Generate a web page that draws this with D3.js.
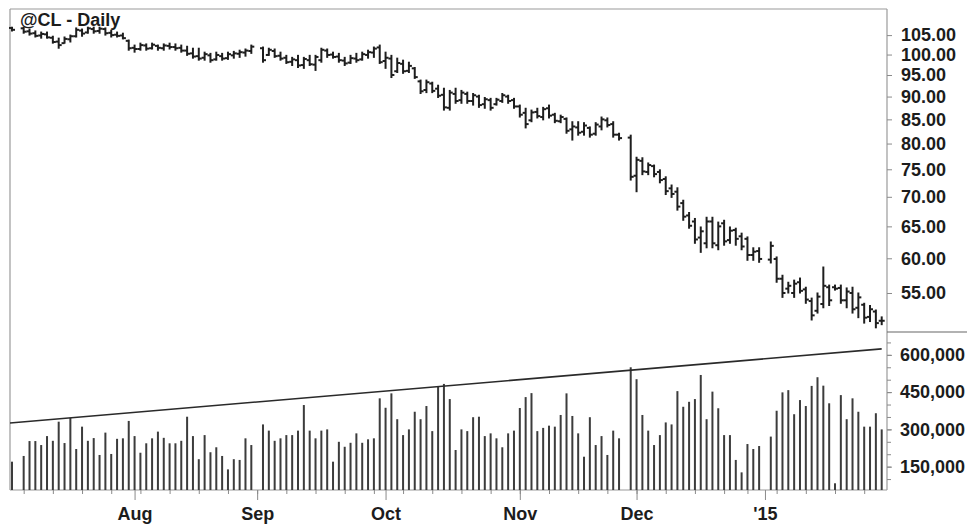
<!DOCTYPE html>
<html>
<head>
<meta charset="utf-8">
<script src="https://cdn.jsdelivr.net/npm/d3@7"></script>
<style>
  html, body { margin: 0; padding: 0; background: #fff; }
  svg text { font-family: "Liberation Sans", Arial, Helvetica, sans-serif; font-weight: bold; fill: #1c1c1c; }
</style>
</head>
<body>
<div id="container"></div>
<script>
const title = '@CL - Daily';
const startDay = '2014-07-03';
const endDay = '2015-01-29';
const closedDays = ['2014-12-25'];

// one slot per session, null = holiday session with no bar
const open = [106.9, null, 106.8, 106.0, 105.5, 104.9, 105.2, 104.3, 103.3, 102.9, 103.9, 104.7, 106.2, 105.7, 106.6, 106.1, 106.6, 105.6, 105.1, 104.9,
  103.5, 101.7, 101.4, 102.3, 101.6, 102.2, 101.6, 102.2, 101.9, 101.7, 101.0, 100.3, 99.6, 99.2, 99.8, 98.8, 99.6, 99.1, 99.8, 100.2,
  100.5, 100.9, null, 101.6, 99.9, 100.9, 99.7, 99.2, 98.2, 98.6, 97.4, 98.6, 97.5, 98.6, 101.0, 100.0, 99.5, 98.5, 98.0, 99.0,
  98.8, 99.9, 100.5, 101.8, 98.4, 99.0, 95.9, 97.7, 96.0, 96.6, 93.5, 91.5, 93.0, 91.8, 90.4, 87.5, 90.6, 89.2, 90.6, 89.0,
  90.0, 88.3, 89.2, 88.3, 89.0, 90.0, 89.2, 87.8, 86.4, 84.8, 86.6, 85.5, 87.4, 86.0, 84.6, 85.1, 82.9, 83.3, 82.4, 83.2,
  82.0, 83.5, 84.8, 84.0, 81.8, null, 81.2, 73.8, 76.6, 74.5, 75.6, 74.5, 73.2, 71.5, 70.9, 68.9, 66.8, 65.8, 63.2, 62.3,
  65.8, 62.0, 65.5, 62.8, 64.4, 63.4, 63.0, 60.5, 61.1, null, 59.8, 59.9, 57.0, 55.6, 55.0, 56.5, 55.5, 53.9, 52.6, 53.5,
  55.8, 55.8, 55.7, 54.0, 55.0, 53.0, 53.4, 51.8, 52.5, 51.3];
const high = [107.1, null, 107.1, 106.6, 106.1, 105.8, 105.8, 104.7, 104.2, 104.5, 105.0, 106.9, 106.6, 107.1, 107.1, 107.1, 106.9, 106.3, 105.8, 105.5,
  103.7, 102.4, 102.9, 102.7, 102.9, 102.4, 102.7, 102.9, 102.7, 102.4, 102.1, 101.6, 101.6, 100.6, 100.3, 100.6, 100.3, 100.6, 100.8, 101.1,
  101.4, 102.4, null, 101.9, 101.6, 101.4, 100.6, 99.8, 99.3, 99.8, 99.3, 99.8, 99.8, 101.6, 101.4, 100.6, 100.3, 99.3, 99.8, 100.3,
  100.6, 101.1, 101.9, 102.4, 100.6, 99.8, 99.1, 98.6, 98.1, 96.8, 93.8, 93.8, 93.3, 92.6, 91.9, 91.4, 91.9, 91.4, 91.0, 90.7,
  90.3, 89.8, 89.6, 89.6, 90.7, 90.3, 89.6, 88.1, 87.4, 87.0, 87.4, 87.6, 88.1, 86.3, 85.9, 85.3, 84.5, 84.5, 84.3, 83.4,
  84.3, 85.5, 85.3, 84.5, 82.1, null, 81.7, 77.3, 77.2, 76.2, 75.8, 74.9, 73.6, 72.1, 71.6, 69.4, 67.3, 66.3, 64.9, 66.5,
  66.5, 65.7, 66.0, 64.9, 64.7, 63.9, 63.3, 61.6, 61.6, null, 62.5, 60.2, 57.5, 56.5, 56.8, 57.1, 55.8, 54.3, 55.0, 58.7,
  56.1, 56.1, 56.1, 55.7, 55.8, 55.0, 53.6, 53.3, 52.7, 51.8];
const low = [106.1, null, 105.5, 105.0, 104.5, 104.2, 104.2, 102.9, 101.6, 102.9, 103.2, 104.5, 104.7, 105.5, 105.5, 105.5, 105.0, 104.5, 104.5, 104.0,
  101.1, 100.6, 101.1, 101.1, 101.4, 101.1, 101.1, 101.4, 101.1, 100.6, 99.8, 99.1, 98.6, 98.6, 98.1, 98.6, 98.6, 98.8, 99.1, 99.3,
  99.6, 100.3, null, 98.1, 99.8, 99.3, 98.6, 97.8, 97.3, 96.8, 96.6, 97.3, 96.1, 98.1, 99.3, 99.1, 98.1, 97.3, 97.8, 98.1,
  98.6, 99.1, 99.3, 97.8, 96.6, 94.4, 95.6, 95.4, 95.6, 94.2, 90.7, 90.9, 90.9, 89.8, 87.0, 87.0, 88.5, 88.5, 88.5, 88.1,
  87.6, 87.4, 87.0, 88.1, 88.7, 88.5, 87.4, 85.5, 83.2, 84.5, 85.3, 84.9, 85.3, 84.3, 84.3, 82.1, 80.7, 81.7, 81.7, 81.3,
  81.7, 82.8, 83.4, 81.3, 80.7, null, 73.0, 70.9, 74.0, 74.0, 73.6, 72.5, 70.4, 69.9, 67.7, 66.0, 64.7, 62.3, 60.9, 61.6,
  61.6, 61.3, 62.0, 62.3, 62.0, 61.3, 59.7, 59.7, 59.4, null, 59.3, 56.5, 54.4, 55.0, 54.4, 55.0, 53.6, 51.4, 52.3, 53.0,
  53.3, 55.4, 53.6, 53.0, 52.3, 51.7, 51.0, 51.2, 50.4, 50.8];
const close = [106.4, null, 105.9, 105.4, 104.8, 105.3, 104.4, 103.2, 102.4, 104.0, 104.7, 106.4, 105.4, 106.8, 106.0, 106.7, 105.5, 105.0, 104.8, 104.2,
  101.6, 101.4, 102.4, 101.5, 102.5, 101.7, 102.3, 101.9, 101.6, 101.0, 100.2, 99.5, 99.0, 100.1, 98.6, 99.9, 99.0, 100.1, 100.3, 100.6,
  101.0, 102.0, null, 98.6, 101.2, 99.6, 99.0, 98.1, 98.8, 97.3, 98.9, 97.6, 99.4, 101.2, 99.9, 99.4, 98.6, 97.8, 99.1, 98.6,
  100.1, 100.6, 101.5, 98.1, 99.2, 95.0, 97.9, 95.9, 97.2, 94.5, 91.2, 93.3, 91.3, 90.2, 87.6, 90.9, 89.0, 90.9, 89.0, 90.3,
  88.1, 89.4, 87.5, 89.3, 90.3, 89.0, 87.8, 86.0, 84.0, 86.5, 85.7, 87.2, 85.8, 84.7, 85.5, 82.6, 83.5, 82.2, 83.7, 81.8,
  83.9, 85.0, 83.8, 81.8, 81.1, null, 73.6, 76.8, 74.6, 75.8, 74.1, 73.0, 71.0, 70.5, 68.3, 66.6, 65.1, 62.9, 64.2, 65.8,
  62.3, 65.0, 62.6, 64.3, 63.0, 61.8, 60.5, 61.0, 59.9, null, 61.9, 57.0, 55.0, 56.0, 56.3, 55.3, 54.1, 52.0, 54.5, 56.0,
  54.0, 55.6, 54.0, 55.2, 52.8, 54.4, 51.7, 52.8, 51.0, 51.3];
const volume = [170000, null, 193000, 253000, 253000, 237000, 273000, 254000, 331000, 245000, 346000, 221000, 311000, 254000, 265000, 197000, 287000, 201000, 262000, 264000,
  334000, 273000, 206000, 244000, 264000, 291000, 266000, 244000, 244000, 254000, 351000, 273000, 180000, 277000, 208000, 228000, 193000, 139000, 180000, 177000,
  264000, 237000, null, 320000, 295000, 254000, 264000, 277000, 277000, 295000, 398000, 295000, 264000, 295000, 300000, 170000, 250000, 230000, 246000, 284000,
  246000, 260000, 264000, 425000, 387000, 445000, 341000, 277000, 300000, 371000, 341000, 394000, 293000, 472000, 483000, 422000, 217000, 300000, 293000, 349000,
  351000, 273000, 284000, 264000, 228000, 284000, 295000, 386000, 430000, 446000, 293000, 306000, 315000, 311000, 358000, 445000, 354000, 284000, 190000, 349000,
  237000, 273000, 197000, 295000, 264000, null, 550000, 502000, 358000, 295000, 237000, 277000, 328000, 320000, 454000, 391000, 411000, 422000, 519000, 341000,
  452000, 385000, 277000, 277000, 177000, 127000, 241000, 221000, 233000, null, 271000, 375000, 449000, 458000, 361000, 418000, 394000, 475000, 510000, 476000,
  405000, 83000, 438000, 341000, 425000, 371000, 311000, 311000, 365000, 300000];
const trendVolume = [326000, 624000];

const priceTicks = [55, 60, 65, 70, 75, 80, 85, 90, 95, 100, 105];
const volumeTicks = [150000, 300000, 450000, 600000];
const monthNames = ['Jan', 'Feb', 'Mar', 'Apr', 'May', 'Jun', 'Jul', 'Aug', 'Sep', 'Oct', 'Nov', 'Dec'];

const width = 974, height = 525;
const plotLeft = 10, plotRight = 887;
const priceTop = 9, priceBottom = 331;
const volTop = 332, volBottom = 490;

const parse = d3.timeParse('%Y-%m-%d');
const fmt = d3.timeFormat('%Y-%m-%d');

const sessions = d3.timeDay.range(parse(startDay), d3.timeDay.offset(parse(endDay), 1))
  .filter(d => d.getDay() % 6 !== 0 && !closedDays.includes(fmt(d)));
const keys = sessions.map(fmt);

const svg = d3.select('#container').append('svg')
  .attr('width', width)
  .attr('height', height);

svg.append('rect').attr('width', width).attr('height', height).attr('fill', '#fff');

const x = d3.scalePoint().domain(keys).range([12, 881.7]);
const y = d3.scaleLog().domain([50, 112.1]).range([priceBottom, priceTop]);
const yVol = d3.scaleLinear().domain([56000, 692000]).range([volBottom, volTop]);

// frame
const frame = svg.append('g').attr('stroke', '#9a9a9a').attr('stroke-width', 1.2).attr('fill', 'none');
frame.append('line').attr('x1', plotLeft).attr('x2', plotRight).attr('y1', priceTop).attr('y2', priceTop);
frame.append('line').attr('x1', plotLeft).attr('x2', plotLeft).attr('y1', priceTop).attr('y2', volBottom);
frame.append('line').attr('x1', plotRight).attr('x2', plotRight).attr('y1', priceTop).attr('y2', volBottom);
frame.append('line').attr('x1', plotLeft).attr('x2', plotRight).attr('y1', volBottom).attr('y2', volBottom);
frame.append('line').attr('x1', plotRight).attr('x2', 967).attr('y1', volTop).attr('y2', volTop)
  .attr('stroke', '#666');

// price axis
const priceAxis = svg.append('g')
  .attr('transform', 'translate(' + plotRight + ',0)')
  .call(d3.axisRight(y).tickValues(priceTicks).tickSize(5).tickPadding(9).tickFormat(d3.format('.2f')));
priceAxis.select('.domain').remove();
priceAxis.selectAll('.tick line').attr('stroke', '#8a8a8a');
priceAxis.selectAll('.tick text').attr('font-size', 18).attr('fill', '#1c1c1c');

// volume axis
const volMinor = svg.append('g')
  .attr('transform', 'translate(' + plotRight + ',0)')
  .call(d3.axisRight(yVol).tickValues(d3.range(100000, 700000, 50000)).tickSize(4).tickFormat(''));
volMinor.select('.domain').remove();
volMinor.selectAll('.tick line').attr('stroke', '#8a8a8a');

const volAxis = svg.append('g')
  .attr('transform', 'translate(' + plotRight + ',0)')
  .call(d3.axisRight(yVol).tickValues(volumeTicks).tickSize(5).tickPadding(8).tickFormat(d3.format(',')));
volAxis.select('.domain').remove();
volAxis.selectAll('.tick line').attr('stroke', '#8a8a8a');
volAxis.selectAll('.tick text').attr('font-size', 18).attr('fill', '#1c1c1c');

// date axis: Mondays minor, first session of each month major
const mondays = sessions.filter(d => d.getDay() === 1).map(fmt);
const monthStarts = sessions.filter((d, i) => i > 0 && d.getMonth() !== sessions[i - 1].getMonth());

const dateMinor = svg.append('g')
  .attr('transform', 'translate(0,' + volBottom + ')')
  .call(d3.axisBottom(x).tickValues(mondays).tickSize(4).tickFormat(''));
dateMinor.select('.domain').remove();
dateMinor.selectAll('.tick line').attr('stroke', '#8a8a8a');

const dateAxis = svg.append('g')
  .attr('transform', 'translate(0,' + volBottom + ')')
  .call(d3.axisBottom(x).tickValues(monthStarts.map(fmt)).tickSize(10).tickPadding(7)
    .tickFormat(k => {
      const d = parse(k);
      return d.getMonth() === 0 ? "'" + String(d.getFullYear()).slice(2) : monthNames[d.getMonth()];
    }));
dateAxis.select('.domain').remove();
dateAxis.selectAll('.tick line').attr('stroke', '#8a8a8a');
dateAxis.selectAll('.tick text').attr('font-size', 18).attr('fill', '#1c1c1c');

// OHLC bars
const bars = keys.map((k, i) => ({ k, o: open[i], h: high[i], l: low[i], c: close[i], v: volume[i] }));
const ohlc = svg.append('g').attr('stroke', '#1e1e1e').attr('stroke-width', 2);

const bar = ohlc.selectAll('.bar')
  .data(bars.filter(d => d.h !== null))
  .enter().append('g')
  .attr('class', 'bar')
  .attr('transform', d => 'translate(' + x(d.k) + ',0)');

bar.append('line').attr('x1', 0).attr('x2', 0).attr('y1', d => y(d.h) - 0.5).attr('y2', d => y(d.l) + 0.5);
bar.append('line').attr('x1', -3).attr('x2', 0).attr('y1', d => y(d.o)).attr('y2', d => y(d.o));
bar.append('line').attr('x1', 0).attr('x2', 3).attr('y1', d => y(d.c)).attr('y2', d => y(d.c));

// volume bars
svg.append('g').selectAll('.vol')
  .data(bars.filter(d => d.v !== null))
  .enter().append('rect')
  .attr('class', 'vol')
  .attr('x', d => x(d.k) - 1)
  .attr('width', 2)
  .attr('y', d => yVol(d.v))
  .attr('height', d => volBottom - yVol(d.v))
  .attr('fill', '#3c3c3c');

// volume trend line
svg.append('line')
  .attr('x1', plotLeft)
  .attr('y1', yVol(trendVolume[0]))
  .attr('x2', x(keys[keys.length - 1]))
  .attr('y2', yVol(trendVolume[1]))
  .attr('stroke', '#2a2a2a')
  .attr('stroke-width', 1.6);

svg.append('text')
  .attr('x', 20)
  .attr('y', 26)
  .attr('font-size', 18)
  .text(title);
</script>
</body>
</html>
